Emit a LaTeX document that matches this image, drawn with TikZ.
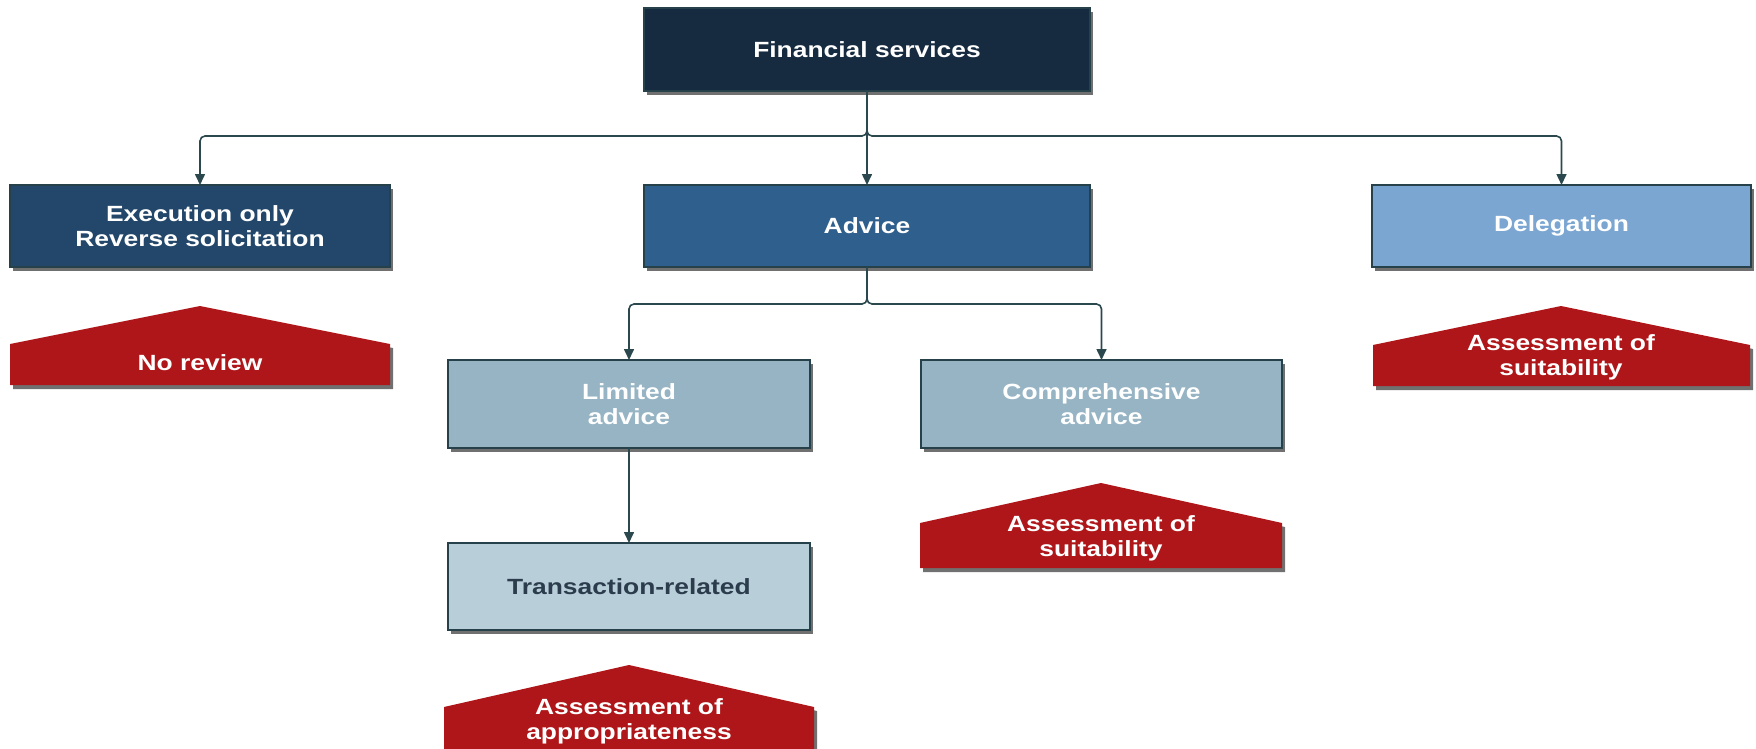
\documentclass[tikz,border=0pt]{standalone}
\usepackage{fontspec}
\setmainfont{Liberation Sans}[FakeStretch=1.2]
\usetikzlibrary{shadows,arrows.meta}

\definecolor{fsnavy}{HTML}{172B40}
\definecolor{execblue}{HTML}{23476A}
\definecolor{adviceblue}{HTML}{2F5F8D}
\definecolor{delegblue}{HTML}{7BA6D1}
\definecolor{greyblue}{HTML}{96B4C4}
\definecolor{paleblue}{HTML}{B8CED9}
\definecolor{darktext}{HTML}{2B3D4C}
\definecolor{alarm}{HTML}{AE1619}
\definecolor{edge}{HTML}{26414A}
\definecolor{linkc}{HTML}{2A484D}
\definecolor{shadowgray}{HTML}{707070}

\begin{document}
\begin{tikzpicture}[x=1pt,y=-1pt,
  label/.style={font=\fontsize{22}{25.3}\selectfont\bfseries, align=center, text=white},
  box/.style={label, draw=edge, line width=1.2pt, inner sep=0pt, outer sep=0pt,
    drop shadow={shadow xshift=3pt, shadow yshift=-4pt, fill=shadowgray, opacity=1}},
  house/.style={fill=alarm,
    drop shadow={shadow xshift=3pt, shadow yshift=-4pt, fill=shadowgray, opacity=1}},
  link/.style={draw=linkc, line width=1.6pt, rounded corners=5pt,
    -{Triangle[length=11pt,width=10pt]}}]
\useasboundingbox (0,0) rectangle (1756,749);

% service boxes
\node[box, fill=fsnavy, minimum width=446pt, minimum height=83pt] (fs) at (867,49.5) {Financial services};
\node[box, fill=execblue, minimum width=380pt, minimum height=82pt] (exe) at (200,226) {Execution only\\Reverse solicitation};
\node[box, fill=adviceblue, minimum width=446pt, minimum height=82pt] (adv) at (867,226) {Advice};
\node[box, fill=delegblue, minimum width=379pt, minimum height=82pt] (del) at (1561.5,226) {Delegation};
\node[box, fill=greyblue, minimum width=362pt, minimum height=88pt] (lim) at (629,404) {Limited\\advice};
\node[box, fill=greyblue, minimum width=361pt, minimum height=88pt] (comp) at (1101.5,404) {Comprehensive\\advice};
\node[box, fill=paleblue, text=darktext, minimum width=362pt, minimum height=87pt] (trx) at (629,586.5) {Transaction-related};

% review markers
\path[house] (10,385) -- (10,344) -- (200,306) -- (390,344) -- (390,385) -- cycle;
\path[house] (1373,386) -- (1373,345) -- (1561,306) -- (1750,345) -- (1750,386) -- cycle;
\path[house] (920,568) -- (920,523) -- (1101,483) -- (1282,523) -- (1282,568) -- cycle;
\path[house] (444,775) -- (444,707) -- (629,665) -- (814,707) -- (814,775) -- cycle;

\node[label] (norev) at (200,363) {No review};
\node[label] (delsuit) at (1561,357) {Assessment of\\suitability};
\node[label] (compsuit) at (1101,538) {Assessment of\\suitability};
\node[label] (approp) at (629,721) {Assessment of\\appropriateness};

% connectors
\coordinate (j1) at (867,136);
\coordinate (j2) at (867,304);
\draw[link] (fs.south) -- (j1) -| (exe.north);
\draw[link] (fs.south) -- (adv.north);
\draw[link] (fs.south) -- (j1) -| (del.north);
\draw[link] (adv.south) -- (j2) -| (lim.north);
\draw[link] (adv.south) -- (j2) -| (comp.north);
\draw[link] (lim.south) -- (trx.north);
\end{tikzpicture}
\end{document}
